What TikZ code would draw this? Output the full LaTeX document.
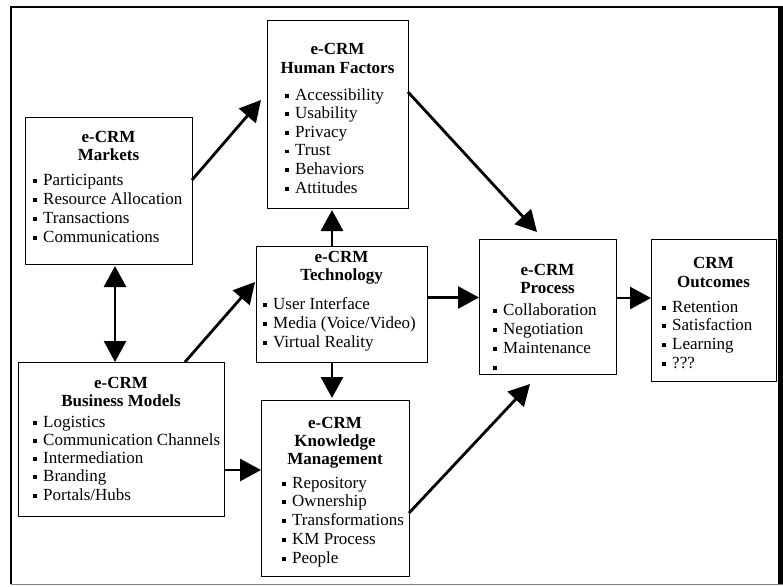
\documentclass[tikz,border=0pt]{standalone}
\usepackage{fontspec}
\setmainfont{Liberation Serif}
\usetikzlibrary{arrows.meta,calc}
\newcommand\itembul{\rule[2.5pt]{3.8pt}{3.8pt}\hspace{6.7pt}}
\begin{document}
\begin{tikzpicture}[x=1pt,y=-1pt,
  box/.style={draw=black,line width=1pt,fill=white,inner sep=0pt,outer sep=0pt},
  ttl/.style={anchor=base,inner sep=0pt,font=\fontsize{17}{18.7}\selectfont\bfseries},
  itm/.style={anchor=base west,inner sep=0pt,font=\fontsize{17}{18.7}\selectfont},
  arr/.style={line width=2.8pt,-{Triangle[length=21pt,width=22pt]}},
  darr/.style={line width=2.8pt,{Triangle[length=21pt,width=22pt]}-{Triangle[length=21pt,width=22pt]}}]
\useasboundingbox (0,0) rectangle (783,586);
\fill[white] (0,0) rectangle (783,586);
% frame
\draw[line width=1.5pt] (11,584) -- (11,7) -- (778,7);
\draw[gray,line width=1pt] (11,584.5) -- (783,584.5);
\fill[black] (778,6.3) rectangle (783,584);

% boxes
\node[box,minimum width=167pt,minimum height=147pt] (mk) at (108.5,190.5) {};
\node[box,minimum width=141pt,minimum height=187pt] (hf) at (337.5,114.5) {};
\node[box,minimum width=171pt,minimum height=116pt] (tech) at (341.5,304) {};
\node[box,minimum width=137pt,minimum height=135pt] (proc) at (547.5,306.5) {};
\node[box,minimum width=125pt,minimum height=142pt] (out) at (713.5,310) {};
\node[box,minimum width=206pt,minimum height=154pt] (bm) at (121,439) {};
\node[box,minimum width=148pt,minimum height=176pt] (km) at (335,488) {};

% titles
\node[ttl] (mk-t1) at (108.5,142) {e-CRM};
\node[ttl] (mk-t2) at (108.5,160) {Markets};
\node[ttl] (hf-t1) at (337.5,55) {e-CRM};
\node[ttl] (hf-t2) at (337.5,74) {Human Factors};
\node[ttl] (tech-t1) at (341.5,262) {e-CRM};
\node[ttl] (tech-t2) at (341.5,280) {Technology};
\node[ttl] (proc-t1) at (547.5,275) {e-CRM};
\node[ttl] (proc-t2) at (547.5,293) {Process};
\node[ttl] (out-t1) at (713.5,268) {CRM};
\node[ttl] (out-t2) at (713.5,287) {Outcomes};
\node[ttl] (bm-t1) at (121,388) {e-CRM};
\node[ttl] (bm-t2) at (121,406) {Business Models};
\node[ttl] (km-t1) at (335,428) {e-CRM};
\node[ttl] (km-t2) at (335,446) {Knowledge};
\node[ttl] (km-t3) at (335,464) {Management};

% items
\foreach \t [count=\i] in {Participants,Resource Allocation,Transactions,Communications}
  \node[itm] (mk-\i) at (32.5,{185+(\i-1)*19}) {\itembul\t};
\foreach \t [count=\i] in {Accessibility,Usability,Privacy,Trust,Behaviors,Attitudes}
  \node[itm] (hf-\i) at (284.5,{100+(\i-1)*18.6}) {\itembul\t};
\foreach \t [count=\i] in {User Interface,Media (Voice/Video),Virtual Reality}
  \node[itm] (tech-\i) at (262.5,{309+(\i-1)*19}) {\itembul\t};
\foreach \t [count=\i] in {Collaboration,Negotiation,Maintenance,{}}
  \node[itm] (proc-\i) at (492.5,{315+(\i-1)*19}) {\itembul\t};
\foreach \t [count=\i] in {Retention,Satisfaction,Learning,???}
  \node[itm] (out-\i) at (661.5,{312+(\i-1)*18.7}) {\itembul\t};
\foreach \t [count=\i] in {Logistics,Communication Channels,Intermediation,Branding,Portals/Hubs}
  \node[itm] (bm-\i) at (32.5,{427+(\i-1)*18.25}) {\itembul\t};
\foreach \t [count=\i] in {Repository,Ownership,Transformations,KM Process,People}
  \node[itm] (km-\i) at (281.5,{488+(\i-1)*18.75}) {\itembul\t};

% connectors
\draw[arr] ($(mk.east)+(0,-10.5)$) -- ($(hf.west)+(-6,-14.5)$);
\draw[arr] ($(hf.east)+(0,-22.5)$) -- ($(proc.north)+(-10.5,-7)$);
\draw[arr,shorten >=2pt] ($(tech.north)+(-9.5,0)$) -- ($(hf.south -| tech.north)+(-9.5,0)$);
\draw[arr] ($(tech.east)+(0,-6.5)$) -- ($(tech.east -| proc.west)+(0,-6.5)$);
\draw[arr,shorten >=2pt] ($(tech.south)+(-9.5,0)$) -- ($(km.north -| tech.south)+(-9.5,0)$);
\draw[darr,shorten <=2pt] ($(mk.south)+(6.5,0)$) -- ($(bm.north -| mk.south)+(6.5,0)$);
\draw[arr] ($(bm.north)+(64,0)$) -- ($(tech.west)+(-1,-22)$);
\draw[arr] ($(bm.east)+(0,31)$) -- ($(bm.east -| km.west)+(0,31)$);
\draw[arr] ($(km.east)+(0,25)$) -- ($(proc.south)+(-17.5,10)$);
\draw[arr] ($(proc.east)+(0,-8.5)$) -- ($(proc.east -| out.west)+(0,-8.5)$);
\end{tikzpicture}
\end{document}
